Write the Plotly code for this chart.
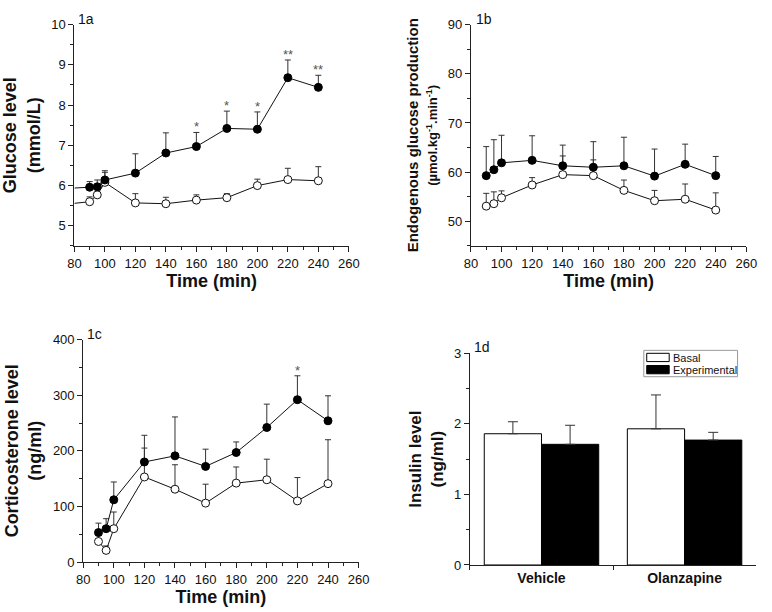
import plotly.graph_objects as go

# ---------------- data ----------------
time_min = [90, 95, 100, 120, 140, 160, 180, 200, 220, 240]

# 1a glucose (mmol/L)
glu_olz = [5.96, 5.97, 6.14, 6.31, 6.81, 6.97, 7.42, 7.40, 8.68, 8.44]
glu_olz_sem = [0.14, 0.17, 0.23, 0.48, 0.50, 0.35, 0.43, 0.43, 0.44, 0.30]
glu_veh = [5.60, 5.77, 6.08, 5.57, 5.55, 5.64, 5.70, 6.00, 6.15, 6.12]
glu_veh_sem = [0.12, 0.13, 0.25, 0.23, 0.16, 0.13, 0.10, 0.16, 0.28, 0.35]
glu_lead_x = [80, 90]
glu_lead_olz = [5.94, 5.96]
glu_lead_veh = [5.56, 5.60]
glu_sig_x = [160, 180, 200, 220, 240]
glu_sig_txt = ["*", "*", "*", "**", "**"]

# 1b endogenous glucose production
egp_olz = [59.3, 60.5, 61.9, 62.4, 61.3, 61.0, 61.3, 59.2, 61.6, 59.3]
egp_olz_sem = [5.9, 6.1, 5.6, 5.0, 4.2, 5.2, 5.8, 5.5, 4.1, 3.9]
egp_veh = [53.1, 53.6, 54.8, 57.4, 59.5, 59.3, 56.3, 54.2, 54.5, 52.3]
egp_veh_sem = [2.6, 2.4, 1.4, 1.5, 3.8, 3.2, 2.1, 2.1, 3.1, 3.5]

# 1c corticosterone (ng/ml)
cort_olz = [53, 60, 112, 180, 191, 172, 197, 242, 292, 254]
cort_olz_sem = [17, 18, 32, 48, 70, 31, 19, 42, 43, 45]
cort_veh = [37, 21, 60, 153, 131, 106, 142, 148, 110, 141]
cort_veh_sem = [11, 8, 30, 52, 44, 34, 29, 37, 42, 79]
cort_sig_x = [220]
cort_sig_txt = ["*"]

# 1d insulin (ng/ml)
groups = ["Vehicle", "Olanzapine"]
ins_basal = [1.86, 1.93]
ins_basal_sem = [0.17, 0.48]
ins_exp = [1.71, 1.77]
ins_exp_sem = [0.27, 0.11]
legend_names = ["Basal", "Experimental"]
legend_fills = ["white", "black"]

# ---------------- layout helpers ----------------
W, H = 772, 612
FONT = "Liberation Sans, Arial, sans-serif"
AX = "#222"
ERR = "#333"


def dx(l, r):
    return [l / W, r / W]


def dy(t, b):
    return [1 - b / H, 1 - t / H]


def px(x):
    return x / W


def py(y):
    return 1 - y / H


fig = go.Figure()


def err(sem, w=3):
    return dict(type="data", array=sem, arrayminus=[0] * len(sem), symmetric=False,
                color=ERR, thickness=1, width=w)


def add_pair(xa, ya, veh, veh_sem, olz, olz_sem):
    fig.add_trace(go.Scatter(x=time_min, y=veh, mode="lines+markers", xaxis=xa, yaxis=ya,
                             line=dict(color="#111", width=1),
                             marker=dict(symbol="circle", size=8, color="white",
                                         line=dict(color="#111", width=1)),
                             error_y=err(veh_sem), showlegend=False, cliponaxis=False))
    fig.add_trace(go.Scatter(x=time_min, y=olz, mode="lines+markers", xaxis=xa, yaxis=ya,
                             line=dict(color="#111", width=1),
                             marker=dict(symbol="circle", size=8, color="black",
                                         line=dict(color="black", width=1)),
                             error_y=err(olz_sem), showlegend=False, cliponaxis=False))


# lead-in segments for 1a
fig.add_trace(go.Scatter(x=glu_lead_x, y=glu_lead_veh, mode="lines", xaxis="x", yaxis="y",
                         line=dict(color="#111", width=1), showlegend=False))
fig.add_trace(go.Scatter(x=glu_lead_x, y=glu_lead_olz, mode="lines", xaxis="x", yaxis="y",
                         line=dict(color="#111", width=1), showlegend=False))

add_pair("x", "y", glu_veh, glu_veh_sem, glu_olz, glu_olz_sem)
add_pair("x2", "y2", egp_veh, egp_veh_sem, egp_olz, egp_olz_sem)
add_pair("x3", "y3", cort_veh, cort_veh_sem, cort_olz, cort_olz_sem)

# 1d bars
fig.add_trace(go.Bar(x=groups, y=ins_basal, name=legend_names[0], xaxis="x4", yaxis="y4",
                     marker=dict(color=legend_fills[0], line=dict(color="black", width=1)),
                     error_y=err(ins_basal_sem, 5), showlegend=False))
fig.add_trace(go.Bar(x=groups, y=ins_exp, name=legend_names[1], xaxis="x4", yaxis="y4",
                     marker=dict(color=legend_fills[1], line=dict(color="black", width=1)),
                     error_y=err(ins_exp_sem, 5), showlegend=False))

# significance markers
annotations = []
for x, t in zip(glu_sig_x, glu_sig_txt):
    i = time_min.index(x)
    annotations.append(dict(x=x, y=glu_olz[i] + glu_olz_sem[i], xref="x", yref="y", text=t,
                            showarrow=False, yanchor="bottom", yshift=-4,
                            font=dict(family=FONT, size=13, color="#555")))
for x, t in zip(cort_sig_x, cort_sig_txt):
    i = time_min.index(x)
    annotations.append(dict(x=x, y=cort_olz[i] + cort_olz_sem[i], xref="x3", yref="y3", text=t,
                            showarrow=False, yanchor="bottom", yshift=-4,
                            font=dict(family=FONT, size=13, color="#555")))

# panel labels
for lbl, lx, ly in [("1a", 71, 12), ("1b", 478, 12), ("1c", 80, 335), ("1d", 476, 349)]:
    annotations.append(dict(x=px(lx), y=py(ly), xref="paper", yref="paper", text=lbl,
                            showarrow=False, xanchor="left", yanchor="middle",
                            font=dict(family=FONT, size=14, color="#111")))

# 1d legend box (drawn like the original's framed key)
shapes = [dict(type="rect", xref="paper", yref="paper", x0=px(652), x1=px(748),
               y0=py(379), y1=py(352), line=dict(color="#999", width=1), fillcolor="white",
               layer="above")]
for k, (name, fill) in enumerate(zip(legend_names, legend_fills)):
    top = 355 + k * 12.5
    shapes.append(dict(type="rect", xref="paper", yref="paper", x0=px(655), x1=px(678),
                       y0=py(top + 8.5), y1=py(top), line=dict(color="black", width=1),
                       fillcolor=fill, layer="above"))
    annotations.append(dict(x=px(680), y=py(top + 4.5), xref="paper", yref="paper", text=name,
                            showarrow=False, xanchor="left", yanchor="middle",
                            font=dict(family=FONT, size=11, color="#111")))

tickfont = dict(family=FONT, size=13, color="#111")
titlefont = dict(family=FONT, size=18, color="#111")


def xaxis(domain, anchor, title):
    return dict(domain=domain, anchor=anchor, range=[80, 260], dtick=20, tick0=0,
                showgrid=False, zeroline=False, showline=True, linecolor=AX, linewidth=1,
                ticks="outside", ticklen=5, tickcolor=AX, tickfont=tickfont,
                minor=dict(ticks="outside", ticklen=3, dtick=10, tickcolor=AX),
                title=dict(text=title, font=titlefont, standoff=2))


def yaxis(domain, anchor, rng, dt, mdt, title, tfont=titlefont):
    return dict(domain=domain, anchor=anchor, range=rng, dtick=dt, tick0=0,
                showgrid=False, zeroline=False, showline=True, linecolor=AX, linewidth=1,
                ticks="outside", ticklen=5, tickcolor=AX, tickfont=tickfont,
                minor=dict(ticks="outside", ticklen=3, dtick=mdt, tickcolor=AX),
                title=dict(text=title, font=tfont, standoff=6))


fig.update_layout(
    width=W, height=H, margin=dict(l=0, r=0, t=0, b=0),
    paper_bgcolor="white", plot_bgcolor="white",
    font=dict(family=FONT, color="#111"),
    xaxis=xaxis(dx(69, 350), "y", "<b>Time (min)</b>"),
    yaxis=yaxis(dy(18, 245), "x", [4.5, 10], 1, 0.5, "<b>Glucose level</b><br><b>(mmol/L)</b>"),
    xaxis2=xaxis(dx(475, 757), "y2", "<b>Time (min)</b>"),
    yaxis2=yaxis(dy(18, 245), "x2", [45, 90], 10, 5,
                 "<b>Endogenous glucose production</b><br>"
                 "<span style='font-size:13px'><b>(µmol.kg<sup>-1</sup>.min<sup>-1</sup>)</b></span>",
                 dict(family=FONT, size=15, color="#111")),
    xaxis3=xaxis(dx(78, 360), "y3", "<b>Time (min)</b>"),
    yaxis3=yaxis(dy(341, 569), "x3", [0, 400], 100, 50,
                 "<b>Corticosterone level</b><br><b>(ng/ml)</b>"),
    xaxis4=dict(domain=dx(474, 767), anchor="y4", type="category", range=[-0.5, 1.5],
                showgrid=False, zeroline=False, showline=True, linecolor=AX, linewidth=1,
                ticks="outside", ticklen=4, tickcolor=AX, tickson="boundaries",
                tickfont=dict(family=FONT, size=14, color="#111"),
                tickvals=groups, ticktext=["<b>Vehicle</b>", "<b>Olanzapine</b>"]),
    yaxis4=yaxis(dy(355, 572), "x4", [0, 3], 1, 0.5, "<b>Insulin level</b><br><b>(ng/ml)</b>",
                 dict(family=FONT, size=17, color="#111")),
    barmode="group", bargap=0.2, bargroupgap=0,
    showlegend=False,
    annotations=annotations,
    shapes=shapes,
)

fig.write_html("out.html", config={"displayModeBar": False},
               post_script="document.body.style.margin='0';document.body.style.overflow='hidden';")
